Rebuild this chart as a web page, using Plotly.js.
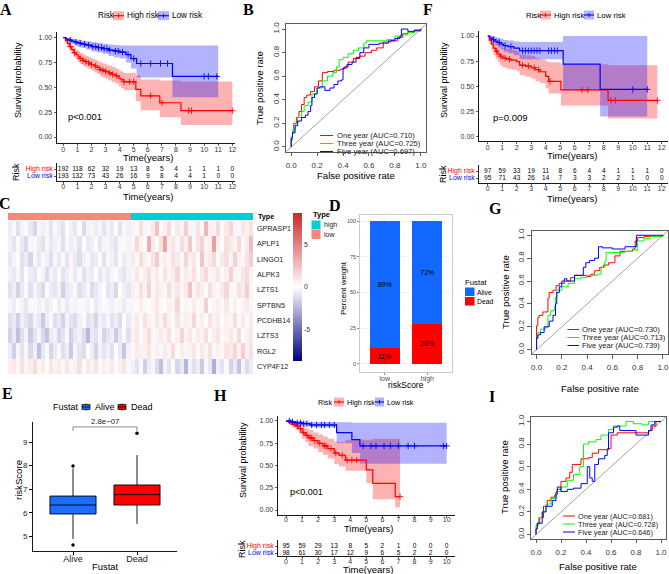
<!DOCTYPE html>
<html><head><meta charset="utf-8">
<script src="https://cdn.plot.ly/plotly-3.0.1.min.js"></script>
<style>html,body{margin:0;padding:0;background:#fff}#chart{width:669px;height:574px}</style>
</head><body><div id="chart"></div>
<script>
// ================= DATA =================
// --- Panel A (KM, training set) ---
const aTicks=[0,1,2,3,4,5,6,7,8,9,10,11,12];
const aHighT=[0,0.15,0.3,0.45,0.6,0.75,0.9,1.05,1.2,1.4,1.6,1.8,2.0,2.2,2.4,2.6,2.8,3.0,3.2,3.45,3.7,3.95,4.1,4.3,5.15,5.5,6.85,8.35,12.0];
const aHighS=[1.0,0.97,0.94,0.91,0.88,0.85,0.83,0.81,0.79,0.77,0.76,0.745,0.73,0.715,0.70,0.68,0.67,0.66,0.645,0.63,0.615,0.59,0.575,0.556,0.48,0.415,0.345,0.265,0.265];
const aHighU=[1,0.995,0.975,0.95,0.925,0.90,0.88,0.865,0.845,0.83,0.815,0.805,0.79,0.78,0.765,0.75,0.74,0.73,0.72,0.705,0.69,0.67,0.66,0.645,0.62,0.58,0.57,0.56,0.56];
const aHighL=[1,0.945,0.905,0.87,0.835,0.80,0.78,0.755,0.735,0.71,0.70,0.685,0.67,0.65,0.635,0.61,0.60,0.59,0.57,0.555,0.54,0.51,0.49,0.47,0.36,0.27,0.2,0.12,0.12];
const aHighCensor=[0.5,0.8,1.2,1.4,1.6,1.8,2.0,2.3,2.6,2.8,3.0,3.3,3.5,3.8,4.3,4.7,5.0,6.2,7.0,8.9,9.1,12.0];
const aLowT=[0,0.2,0.4,0.6,0.8,1.0,1.3,1.6,2.0,2.4,2.8,3.2,3.6,4.0,4.45,4.8,5.2,7.75,11.0];
const aLowS=[1,0.985,0.975,0.965,0.955,0.945,0.935,0.925,0.91,0.90,0.89,0.875,0.865,0.855,0.83,0.79,0.74,0.61,0.61];
const aLowU=[1,1,0.995,0.99,0.985,0.98,0.97,0.965,0.955,0.95,0.94,0.93,0.925,0.92,0.92,0.92,0.92,0.92,0.92];
const aLowL=[1,0.965,0.95,0.935,0.92,0.905,0.895,0.88,0.86,0.85,0.835,0.815,0.80,0.79,0.75,0.69,0.6,0.4,0.4];
const aLowCensor=[0.5,0.9,1.2,1.5,1.8,2.1,2.3,2.5,2.7,2.9,3.1,3.3,3.7,3.9,4.2,4.6,5.0,5.5,6.2,6.9,7.4,10.0,10.3,10.9];
const aTableHigh=[192,118,62,32,19,13,8,5,4,1,1,1,0];
const aTableLow=[193,132,73,43,26,16,9,8,4,4,1,0,0];

// --- Panel F (KM, test set) ---
const fTicks=[0,1,2,3,4,5,6,7,8,9,10,11,12];
const fHighT=[0,0.1,0.25,0.4,0.55,0.7,0.85,1.0,1.3,1.6,2.0,2.2,2.6,3.0,3.3,3.6,4.0,4.2,5.05,8.3,11.7];
const fHighS=[1,0.96,0.92,0.88,0.85,0.82,0.80,0.78,0.77,0.76,0.745,0.71,0.70,0.685,0.665,0.645,0.60,0.55,0.465,0.36,0.36];
const fHighU=[1,1,0.99,0.96,0.94,0.92,0.90,0.88,0.87,0.86,0.85,0.82,0.81,0.80,0.78,0.77,0.75,0.74,0.72,0.71,0.71];
const fHighL=[1,0.92,0.86,0.81,0.77,0.74,0.71,0.69,0.675,0.665,0.65,0.61,0.595,0.575,0.55,0.53,0.48,0.43,0.31,0.18,0.18];
const fHighCensor=[0.6,0.9,1.2,1.5,2.4,2.8,3.2,3.5,4.3,6.5,6.9,8.5,8.8,11.7];
const fLowT=[0,0.15,0.3,0.5,0.7,0.9,1.1,1.4,1.8,2.2,5.2,7.75,11.0];
const fLowS=[1,0.98,0.965,0.95,0.935,0.92,0.905,0.895,0.88,0.855,0.72,0.47,0.47];
const fLowU=[1,1,1,0.99,0.98,0.97,0.96,0.955,0.945,0.94,1.0,1.0,1.0];
const fLowL=[1,0.95,0.93,0.905,0.885,0.865,0.845,0.83,0.81,0.77,0.46,0.2,0.2];
const fLowCensor=[0.4,0.8,1.2,1.6,2.4,2.6,2.8,3.0,3.2,3.4,3.6,4.2,4.4,4.6,4.8,10.0,11.0];
const fTableHigh=[97,59,33,19,11,8,6,4,4,1,1,1,0];
const fTableLow=[95,71,43,26,14,7,3,3,2,2,1,0,0];

// --- Panel H (KM, external set) ---
const hTicks=[0,1,2,3,4,5,6,7,8,9,10];
const hHighT=[0,0.2,0.4,0.6,0.8,1.0,1.2,1.4,1.7,2.0,2.3,2.6,3.0,3.3,3.7,5.0,5.4,6.8,7.1];
const hHighS=[1,0.985,0.965,0.945,0.915,0.87,0.84,0.81,0.78,0.75,0.72,0.69,0.64,0.615,0.56,0.45,0.30,0.15,0.15];
const hHighU=[1,1,1,0.99,0.97,0.94,0.92,0.90,0.87,0.85,0.825,0.80,0.77,0.76,0.79,0.79,0.8,0.8,0.8];
const hHighL=[1,0.97,0.93,0.9,0.86,0.8,0.76,0.72,0.69,0.65,0.62,0.58,0.52,0.49,0.44,0.30,0.12,0.03,0.03];
const hHighCensor=[0.3,0.5,0.7,0.9,1.1,1.3,1.5,1.6,1.8,2.1,2.4,2.5,2.8,3.1,3.5,3.8,4.1,4.4,7.1];
const hLowT=[0,0.3,0.6,1.0,1.5,3.15,4.1,4.6,10.0];
const hLowS=[1,0.99,0.98,0.97,0.955,0.87,0.79,0.72,0.72];
const hLowU=[1,1,1,0.995,0.99,0.985,0.98,0.98,0.98];
const hLowL=[1,0.97,0.955,0.94,0.93,0.75,0.64,0.52,0.52];
const hLowCensor=[0.2,0.4,0.7,0.9,1.1,1.3,1.6,1.9,2.2,2.4,2.7,3.0,4.8,5.3,5.6,6.1,6.5,7.0,7.6,8.0,9.8,10.0];
const hTableHigh=[95,59,29,13,8,5,2,1,0,0,0];
const hTableLow=[98,61,30,17,12,9,6,5,2,2,0];

// --- ROC panels B, G, I ---
const rocTicks=[0,0.2,0.4,0.6,0.8,1.0];
const bOneFpr=[0,0,0.01,0.02,0.04,0.06,0.08,0.1,0.12,0.15,0.18,0.21,0.24,0.28,0.33,0.38,0.41,0.44,0.48,0.53,0.57,0.62,0.66,0.71,0.77,0.82,0.86,0.9,0.95,1];
const bOneTpr=[0,0.06,0.12,0.2,0.25,0.3,0.36,0.42,0.44,0.47,0.51,0.56,0.63,0.64,0.65,0.66,0.68,0.72,0.75,0.77,0.8,0.82,0.84,0.89,0.9,0.93,0.96,0.97,0.99,1];
const bThreeFpr=[0,0,0.01,0.03,0.05,0.08,0.1,0.13,0.16,0.2,0.24,0.28,0.32,0.35,0.37,0.4,0.44,0.48,0.52,0.56,0.58,0.62,0.68,0.74,0.8,0.85,0.9,0.95,1];
const bThreeTpr=[0,0.07,0.14,0.2,0.25,0.3,0.35,0.38,0.45,0.5,0.56,0.6,0.63,0.68,0.74,0.76,0.79,0.82,0.84,0.88,0.9,0.9,0.9,0.91,0.94,0.95,0.97,0.98,1];
const bFiveFpr=[0,0,0.01,0.03,0.05,0.08,0.11,0.13,0.15,0.16,0.18,0.2,0.22,0.26,0.3,0.33,0.36,0.39,0.4,0.43,0.47,0.5,0.53,0.56,0.6,0.68,0.75,0.8,0.84,0.85,0.9,0.95,1];
const bFiveTpr=[0,0.08,0.12,0.18,0.22,0.25,0.27,0.3,0.35,0.42,0.45,0.5,0.51,0.48,0.5,0.53,0.56,0.57,0.67,0.7,0.72,0.76,0.8,0.84,0.87,0.88,0.9,0.92,0.94,1.0,0.98,0.99,1];
const bLabels=['One year (AUC=0.710)','Three year (AUC=0.725)','Five year (AUC=0.697)'];

const gOneFpr=[0,0,0.01,0.02,0.05,0.06,0.09,0.1,0.13,0.155,0.18,0.22,0.27,0.3,0.35,0.4,0.43,0.46,0.5,0.53,0.57,0.62,0.66,0.72,0.76,0.78,0.8,0.85,0.92,1];
const gOneTpr=[0,0.21,0.28,0.3,0.33,0.33,0.45,0.5,0.52,0.56,0.58,0.6,0.63,0.65,0.65,0.64,0.66,0.69,0.72,0.74,0.76,0.82,0.86,0.86,0.88,0.95,0.98,0.99,0.99,1];
const gThreeFpr=[0,0,0.01,0.03,0.07,0.09,0.11,0.14,0.15,0.16,0.2,0.25,0.3,0.35,0.4,0.45,0.48,0.51,0.54,0.55,0.6,0.7,0.76,0.8,0.85,0.9,1];
const gThreeTpr=[0,0.1,0.15,0.18,0.2,0.3,0.34,0.38,0.46,0.52,0.55,0.58,0.62,0.63,0.65,0.65,0.66,0.72,0.77,0.85,0.85,0.86,0.87,0.95,0.97,0.99,1];
const gFiveFpr=[0,0,0.01,0.03,0.06,0.1,0.13,0.15,0.16,0.18,0.2,0.22,0.24,0.3,0.34,0.37,0.39,0.42,0.46,0.49,0.52,0.6,0.7,0.79,0.85,0.95,1];
const gFiveTpr=[0,0.1,0.13,0.15,0.2,0.25,0.3,0.4,0.5,0.55,0.6,0.62,0.6,0.65,0.65,0.72,0.76,0.78,0.8,0.9,0.89,0.88,0.9,1.0,1.0,1.0,1];
const gLabels=['One year (AUC=0.730)','Three year (AUC=0.713)','Five year (AUC=0.739)'];

const iOneFpr=[0,0,0.01,0.03,0.06,0.09,0.12,0.15,0.17,0.2,0.24,0.27,0.29,0.33,0.36,0.42,0.45,0.5,0.57,0.6,0.65,0.75,0.85,0.9,0.93,0.96,1];
const iOneTpr=[0,0.05,0.1,0.15,0.25,0.3,0.33,0.35,0.4,0.47,0.5,0.55,0.62,0.62,0.67,0.68,0.72,0.75,0.76,0.88,0.9,0.9,0.9,0.92,0.96,1.0,1];
const iThreeFpr=[0,0,0.02,0.05,0.08,0.12,0.16,0.2,0.25,0.3,0.35,0.38,0.42,0.48,0.52,0.58,0.62,0.7,0.72,0.78,0.85,0.9,1];
const iThreeTpr=[0,0.08,0.15,0.2,0.27,0.32,0.38,0.42,0.48,0.53,0.6,0.8,0.82,0.84,0.88,0.93,0.96,0.96,1.0,0.98,0.97,1.0,1];
const iFiveFpr=[0,0,0.01,0.05,0.08,0.13,0.16,0.17,0.2,0.25,0.3,0.36,0.41,0.43,0.45,0.47,0.5,0.55,0.57,0.58,0.62,0.65,0.67,0.72,0.8,0.88,0.9,0.92,0.95,1];
const iFiveTpr=[0,0.05,0.1,0.2,0.25,0.3,0.37,0.42,0.38,0.4,0.41,0.45,0.6,0.5,0.47,0.62,0.67,0.7,0.75,0.9,0.95,0.96,0.92,0.92,0.88,0.88,0.92,0.97,1.0,1];
const iLabels=['One year (AUC=0.681)','Three year (AUC=0.728)','Five year (AUC=0.646)'];

// --- Panel C (heatmap): 30 low-risk samples then 30 high-risk samples ---
const hmGenes=['GPRASP1','APLP1','LINGO1','ALPK3','LZTS1','SPTBN5','PCDHB14','LZTS3','RGL2','CYP4F12'];
const hmLowN=30, hmHighN=30;
const hmGPRASP1=[-0.6,-0.2,-1.1,-0.4,0.2,-0.7,-1.4,-0.3,-0.5,0.4,-0.9,-0.2,-0.6,-1.0,0.1,-0.5,-0.8,-0.1,-1.2,-0.4,0.5,-0.6,-0.3,-0.9,-0.4,-0.7,0.2,-1.0,-0.3,-0.5,
  0.6,0.2,1.3,0.4,-0.2,0.9,2.4,0.3,0.6,1.5,0.1,0.8,0.4,1.9,0.5,-0.3,1.1,0.3,2.8,0.7,0.5,1.4,0.2,0.9,1.7,0.4,-0.2,1.0,0.6,1.2];
const hmAPLP1=[-0.5,-0.9,-0.2,-0.7,-1.3,-0.3,0.3,-0.6,-1.0,-0.3,-0.8,-0.5,0.4,-1.1,-0.2,-0.6,-0.4,-1.0,0.2,-0.7,-0.5,-0.1,-0.8,-0.3,0.5,-0.6,-0.9,-0.2,0.3,-0.4,
  0.4,1.6,0.6,0.2,3.2,0.8,0.3,1.2,3.6,0.5,1.0,-0.3,1.4,0.6,2.2,0.3,1.1,1.8,0.4,0.7,3.8,0.6,0.2,1.3,0.9,0.5,1.5,-0.2,0.8,2.6];
const hmLINGO1=[-0.8,-0.4,-0.1,-1.0,-0.6,-1.4,-0.3,-0.8,0.3,-0.5,-1.1,-0.3,-0.7,-0.2,-0.9,0.4,-0.7,-1.2,-0.5,-0.2,-0.8,-0.6,0.1,-1.0,-0.3,-0.5,-0.9,0.2,-0.6,-0.4,
  0.9,0.3,1.4,0.6,0.1,1.1,2.1,0.4,0.7,-0.2,1.2,0.8,0.3,1.7,0.6,1.0,0.2,2.3,0.5,0.9,1.5,0.2,0.8,1.3,0.4,1.9,0.6,0.3,1.1,2.0];
const hmALPK3=[-0.5,-0.8,-0.3,-1.0,-0.1,-0.6,-0.9,0.2,-0.4,-1.2,-0.4,-0.7,-0.2,-0.9,-0.5,0.3,-0.7,-0.2,-1.0,-0.5,-0.6,0.1,-0.8,-0.4,-0.7,-0.3,0.2,-0.6,-0.9,-0.4,
  0.5,1.0,0.2,0.7,1.3,0.4,0.9,-0.1,1.1,0.4,0.7,1.6,0.3,0.8,0.5,1.2,0.2,0.9,1.5,0.4,0.6,1.1,0.2,0.7,1.8,0.5,0.3,1.0,1.4,0.6];
const hmLZTS1=[-1.0,-0.5,-1.5,-0.7,-0.2,-1.1,-0.4,-0.8,-1.3,0.2,-0.6,-0.9,-0.4,-1.6,-0.7,-0.5,0.3,-1.1,-0.7,-0.3,-1.2,-0.8,-0.4,-0.1,-0.9,-0.6,-1.3,0.1,-0.5,-0.8,
  0.7,0.3,1.2,0.5,1.8,0.2,0.9,0.6,-0.3,1.4,0.5,1.0,0.4,0.8,2.4,0.4,1.1,0.7,0.2,1.3,0.6,-0.1,0.9,1.6,0.5,0.3,1.2,0.8,2.0,0.4];
const hmSPTBN5=[-0.3,-0.6,-0.1,-0.4,-0.8,-0.2,0.3,-0.5,-0.2,-0.7,-0.4,0.1,-0.6,-0.2,-0.7,-0.3,-0.4,0.3,-0.2,-0.5,-0.1,-0.7,-0.4,0.2,-0.3,-0.5,-0.2,0.4,-0.6,-0.3,
  0.4,0.2,0.7,0.3,-0.1,0.5,1.0,0.3,0.1,0.6,0.4,1.6,0.2,0.5,-0.2,0.8,0.3,0.5,2.0,0.1,0.4,0.7,0.3,1.0,0.2,0.6,-0.1,0.4,0.9,0.3];
const hmPCDHB14=[-1.1,-0.7,-1.6,-0.5,-0.9,-1.3,-0.4,-0.8,-1.8,-0.6,-0.2,-1.1,-0.7,-1.5,-0.4,-0.9,-1.2,-0.5,0.2,-1.0,-0.7,-1.4,-0.5,-0.8,-0.3,-1.0,-0.6,-1.2,0.1,-0.7,
  0.4,0.8,0.2,1.2,0.5,-0.2,1.0,0.4,1.4,0.6,0.2,1.1,-0.3,0.7,0.5,1.6,0.3,0.7,0.1,1.1,0.5,0.9,-0.1,0.6,0.4,1.3,0.2,0.8,-0.2,0.9];
const hmLZTS3=[-1.5,-0.7,-2.2,-1.1,-0.4,-1.8,-0.9,-0.3,-1.3,-2.0,-0.7,-0.4,-1.4,-1.0,0.3,-1.6,-0.8,-0.5,-1.2,-2.4,-0.7,-1.0,-0.3,-1.5,-0.9,-0.5,-1.7,-0.8,-0.2,-1.1,
  0.5,1.0,0.1,0.7,1.4,0.3,-0.3,0.8,0.5,1.2,0.2,0.6,1.7,0.4,0.9,-0.2,0.8,0.4,1.3,0.2,0.7,1.1,0.2,0.5,0.9,0.3,1.5,-0.1,0.6,1.0];
const hmRGL2=[-0.6,-1.6,-0.3,-1.0,0.4,-1.3,-0.5,-2.2,-0.8,-0.2,-1.4,-0.7,0.3,-1.1,-0.6,-1.8,-0.3,-0.9,-1.2,0.2,-0.6,-1.5,-0.4,-0.9,-0.5,-1.1,0.1,-0.7,-1.9,-0.4,
  0.3,0.8,-0.4,0.6,1.1,0.2,0.6,-0.2,0.9,0.4,1.4,0.2,0.7,-0.3,0.5,1.0,0.1,0.8,0.4,1.3,-0.2,0.6,0.3,1.1,0.8,1.6,0.4,1.9,0.6,1.2];
const hmCYP4F12=[0.6,0.9,0.3,1.2,0.4,0.7,1.4,0.3,0.8,0.1,1.0,0.5,0.8,-0.2,1.0,0.4,0.6,1.3,0.2,0.8,0.5,1.1,0.2,0.7,0.4,0.9,-0.1,0.6,1.0,0.3,
  -0.5,-1.0,-0.2,-1.6,-0.6,-0.3,-1.2,-2.2,-0.4,-0.9,-0.1,-1.4,-0.7,-2.5,-0.4,-1.1,-0.6,-1.8,-0.2,-0.8,-2.8,-0.5,-1.0,-0.2,-1.5,-0.7,-2.0,-0.4,-1.2,-0.6];
const hmColorTicks=[-5,0,5];

// --- Panel D (stacked percent bars) ---
const dGroups=['low','high'];
const dDead=[11,28];
const dAlive=[89,72];
const dTicks=[0,25,50,75,100];

// --- Panel E (box plot) ---
const eGroups=['Alive','Dead'];
const eQ1=[5.95,6.33];
const eMedian=[6.33,6.77];
const eQ3=[6.71,7.18];
const eLowerFence=[4.89,5.53];
const eUpperFence=[7.88,8.45];
const eOutX=['Alive','Alive','Dead'];
const eOutY=[7.98,4.63,9.37];
const ePText='2.8e\u221207';
const eTicks=[5,6,7,8,9];

// ================= BUILD =================
const W=669,H=574;
const FONT='Liberation Sans, Arial, Helvetica, sans-serif';
const SERIF='Liberation Serif, Times New Roman, serif';
const RED='#FF0000', BLUE='#0000FF', GREEN='#00FF00';
const P=x=>x/W, Q=y=>1-y/H;
const dx=(a,b)=>[a/W,b/W];
const dy=(t,b)=>[1-b/H,1-t/H];
const ax=n=>n===1?'':String(n);
const traces=[], annotations=[], shapes=[];
const layout={width:W,height:H,margin:{l:0,r:0,t:0,b:0},paper_bgcolor:'#fff',plot_bgcolor:'rgba(0,0,0,0)',
  showlegend:false,font:{family:FONT,color:'#000'},annotations:annotations,shapes:shapes,barmode:'stack'};

function txt(x,y,text,size,xa,o){
  o=o||{};
  annotations.push({xref:'paper',yref:'paper',x:P(x),y:Q(y),text:text,showarrow:false,xanchor:xa||'center',yanchor:'middle',
    textangle:o.angle||0,borderpad:0,font:{family:o.family||FONT,size:size,color:o.color||'#000'}});
}
function pline(x0,y0,x1,y1,color,w){shapes.push({type:'line',xref:'paper',yref:'paper',x0:P(x0),y0:Q(y0),x1:P(x1),y1:Q(y1),line:{color:color,width:w}});}
function prect(x0,y0,x1,y1,fill,lc,lw){shapes.push({type:'rect',xref:'paper',yref:'paper',x0:P(x0),y0:Q(y0),x1:P(x1),y1:Q(y1),fillcolor:fill,line:{color:lc||'rgba(0,0,0,0)',width:lw||0}});}

function stepAt(T,S,t){let v=S[0];for(let i=0;i<T.length;i++){if(T[i]<=t)v=S[i];}return v;}

const KMAX={showline:true,linecolor:'#000',linewidth:0.9,ticks:'outside',ticklen:2.5,tickwidth:0.8,tickcolor:'#333',
  tickfont:{size:7,color:'#333'},showgrid:false,zeroline:false,fixedrange:true,ticklabeloverflow:'allow'};
const survTicks=[0,0.25,0.5,0.75,1], survText=['0.00','0.25','0.50','0.75','1.00'];
const riskLabels=['<span style="color:#FF0000">High risk</span>','<span style="color:#0000FF">Low risk</span>'];

function kmAxes(n,xd,yd,xr,yr,ticks,standoff){
  layout['xaxis'+ax(n)]=Object.assign({},KMAX,{domain:dx(xd[0],xd[1]),range:xr,anchor:'y'+ax(n),tickvals:ticks,ticklabelstandoff:standoff});
  layout['yaxis'+ax(n)]=Object.assign({},KMAX,{domain:dy(yd[0],yd[1]),range:yr,anchor:'x'+ax(n),tickvals:survTicks,ticktext:survText});
}
function tableAxes(n,xd,yd,xr,yr,ticks){
  layout['xaxis'+ax(n)]=Object.assign({},KMAX,{domain:dx(xd[0],xd[1]),range:xr,anchor:'y'+ax(n),tickvals:ticks,ticklabelstandoff:-4});
  layout['yaxis'+ax(n)]=Object.assign({},KMAX,{domain:dy(yd[0],yd[1]),range:yr,anchor:'x'+ax(n),tickvals:[2,1],ticktext:riskLabels,ticklen:2,tickfont:{size:7}});
}
function kmGroup(n,T,S,U,L,C,col,fill){
  const xa='x'+ax(n), ya='y'+ax(n);
  traces.push({type:'scatter',x:T,y:L,mode:'lines',line:{width:0,shape:'hv'},xaxis:xa,yaxis:ya,hoverinfo:'skip'});
  traces.push({type:'scatter',x:T,y:U,mode:'lines',line:{width:0,shape:'hv'},fill:'tonexty',fillcolor:fill,xaxis:xa,yaxis:ya,hoverinfo:'skip'});
}
function kmLine(n,T,S,C,col){
  const xa='x'+ax(n), ya='y'+ax(n);
  traces.push({type:'scatter',x:T,y:S,mode:'lines',line:{width:1.2,shape:'hv',color:col},xaxis:xa,yaxis:ya});
  traces.push({type:'scatter',x:C,y:C.map(t=>stepAt(T,S,t)),mode:'markers',marker:{symbol:'cross-thin',size:4.5,line:{color:col,width:0.9}},xaxis:xa,yaxis:ya,cliponaxis:false});
}
function tableRow(n,ticks,counts,yv){
  traces.push({type:'scatter',x:ticks,y:ticks.map(()=>yv),mode:'text',text:counts.map(String),textposition:'middle center',
    textfont:{size:6.5,color:'#000',family:FONT},xaxis:'x'+ax(n),yaxis:'y'+ax(n),cliponaxis:false});
}
function kmLegendGlyph(x0,x1,yc,col,fill){
  prect(x0,yc-4.5,x1,yc+4.5,fill);
  pline(x0,yc,x1,yc,col,1.1);
  pline((x0+x1)/2,yc-2,(x0+x1)/2,yc+2,col,0.9);
}
function kmLegend(y,xs,size){
  txt(xs[0],y,'Risk',size,'left');
  kmLegendGlyph(xs[1],xs[2],y,RED,'rgba(255,0,0,0.3)');
  txt(xs[3],y,'High risk',size,'left');
  kmLegendGlyph(xs[4],xs[5],y,BLUE,'rgba(0,0,255,0.3)');
  txt(xs[6],y,'Low risk',size,'left');
}
const REDF='rgba(255,0,0,0.3)', BLUEF='rgba(0,0,255,0.3)';

// ---- Panel A ----
kmAxes(1,[57,235],[32,143],[-0.447,12.19],[-0.06,1.057],aTicks,-3);
kmGroup(1,aHighT,aHighS,aHighU,aHighL,aHighCensor,RED,REDF);
kmGroup(1,aLowT,aLowS,aLowU,aLowL,aLowCensor,BLUE,BLUEF);
kmLine(1,aHighT,aHighS,aHighCensor,RED);
kmLine(1,aLowT,aLowS,aLowCensor,BLUE);
tableAxes(2,[57,235],[163,181],[-0.447,12.19],[0.286,2.857],aTicks);
tableRow(2,aTicks,aTableHigh,2);
tableRow(2,aTicks,aTableLow,1);
kmLegend(15.7,[97,113,124,126,158,169,171],8.2);
txt(148,157.5,'Time(years)',9.5);
txt(148,196.5,'Time(years)',9.5);
txt(18,80,'Survival probability',9,'center',{angle:-90});
txt(16,172,'Risk',9,'center',{angle:-90});
txt(67,117,'p<0.001',9.3,'left');

// ---- Panel F ----
kmAxes(3,[479,668],[31,141],[-0.6,12.43],[-0.043,1.05],fTicks,-3);
kmGroup(3,fHighT,fHighS,fHighU,fHighL,fHighCensor,RED,REDF);
kmGroup(3,fLowT,fLowS,fLowU,fLowL,fLowCensor,BLUE,BLUEF);
kmLine(3,fHighT,fHighS,fHighCensor,RED);
kmLine(3,fLowT,fLowS,fLowCensor,BLUE);
tableAxes(4,[479,668],[165,183],[-0.6,12.43],[0.286,2.857],fTicks);
tableRow(4,fTicks,fTableHigh,2);
tableRow(4,fTicks,fTableLow,1);
kmLegend(15,[525,540,551,553,584,594,596],7.8);
txt(572,155.5,'Time(years)',9.5);
txt(572,198,'Time(years)',9.5);
txt(444,80,'Survival probability',9,'center',{angle:-90});
txt(443,174,'Risk',9,'center',{angle:-90});
txt(492,117,'p=0.009',9.5,'left');

// ---- Panel H ----
kmAxes(5,[278,455],[416,515],[-0.498,10.52],[-0.056,1.056],hTicks,-5);
kmGroup(5,hHighT,hHighS,hHighU,hHighL,hHighCensor,RED,REDF);
kmGroup(5,hLowT,hLowS,hLowU,hLowL,hLowCensor,BLUE,BLUEF);
kmLine(5,hHighT,hHighS,hHighCensor,RED);
kmLine(5,hLowT,hLowS,hLowCensor,BLUE);
tableAxes(6,[278,455],[540,556],[-0.498,10.52],[0.571,2.857],hTicks);
tableRow(6,hTicks,hTableHigh,2);
tableRow(6,hTicks,hTableLow,1);
kmLegend(402,[317,334,344,346,375,384,386],7.2);
txt(368,528.5,'Time(years)',9.3);
txt(368,569.5,'Time(years)',9.5);
txt(243,460,'Survival probability',9,'center',{angle:-90});
txt(242,549,'Risk',9,'center',{angle:-90});
txt(289,492,'p<0.001',9,'left');

// ---- ROC panels ----
const ROCAX={showline:true,mirror:true,linecolor:'#333',linewidth:0.8,ticks:'outside',ticklen:3.5,tickwidth:0.8,tickcolor:'#333',
  tickfont:{size:8,color:'#333'},showgrid:false,zeroline:false,range:[-0.04,1.04],tickvals:rocTicks,ticktext:rocTicks.map(v=>v.toFixed(1)),
  fixedrange:true,ticklabeloverflow:'allow'};
function rocPanel(n,xd,yd,curves,labels,leg){
  layout['xaxis'+n]=Object.assign({},ROCAX,{domain:dx(xd[0],xd[1]),anchor:'y'+n,ticklabelstandoff:2});
  layout['yaxis'+n]=Object.assign({},ROCAX,{domain:dy(yd[0],yd[1]),anchor:'x'+n,tickangle:-90});
  shapes.push({type:'line',xref:'x'+n,yref:'y'+n,x0:-0.04,y0:-0.04,x1:1.04,y1:1.04,line:{color:'#8c8c8c',width:0.8},layer:'below'});
  const cols=[RED,GREEN,BLUE];
  curves.forEach((c,i)=>{
    traces.push({type:'scatter',x:c[0],y:c[1],mode:'lines',line:{color:cols[i],width:1,shape:'hv'},xaxis:'x'+n,yaxis:'y'+n});
    pline(leg.x0,leg.ys[i],leg.x1,leg.ys[i],cols[i],1);
    txt(leg.xt,leg.ys[i],labels[i],leg.size,'left',{color:'#222'});
  });
}
rocPanel(7,[286,426],[24.3,151.7],[[bOneFpr,bOneTpr],[bThreeFpr,bThreeTpr],[bFiveFpr,bFiveTpr]],bLabels,{x0:320,x1:333,xt:335.5,ys:[135.5,143.5,151.5],size:7.6});
txt(356,175.5,'False positive rate',9.6);
txt(260,88,'True positive rate',9.6,'center',{angle:-90});
rocPanel(8,[531.5,668],[230.7,354.3],[[gOneFpr,gOneTpr],[gThreeFpr,gThreeTpr],[gFiveFpr,gFiveTpr]],gLabels,{x0:567.5,x1:579,xt:580.5,ys:[329.5,337.5,345.5],size:7.6});
txt(600,388.5,'False positive rate',9.6);
txt(505,292,'True positive rate',9.6,'center',{angle:-90});
rocPanel(9,[531,666],[417,539],[[iOneFpr,iOneTpr],[iThreeFpr,iThreeTpr],[iFiveFpr,iFiveTpr]],iLabels,{x0:563,x1:575,xt:577,ys:[516,524,532],size:7.3});
txt(598,566.5,'False positive rate',9.6);
txt(505,477,'True positive rate',9.6,'center',{angle:-90});

// ---- Panel C heatmap ----
const hmZ=[hmGPRASP1,hmAPLP1,hmLINGO1,hmALPK3,hmLZTS1,hmSPTBN5,hmPCDHB14,hmLZTS3,hmRGL2,hmCYP4F12];
const hmCols=hmGPRASP1.map((v,i)=>i);
const hmType=hmCols.map(i=>i<hmLowN?0:1);
const hmN=hmLowN+hmHighN;
layout.xaxis10={domain:dx(8,253),range:[-0.5,hmN-0.5],anchor:'y10',visible:false,fixedrange:true};
layout.yaxis10={domain:dy(221,374),type:'category',range:[9.5,-0.5],anchor:'x10',side:'right',showline:false,ticks:'',showgrid:false,zeroline:false,
  tickfont:{size:7.2,color:'#222'},ticklabelstandoff:3,fixedrange:true};
traces.push({type:'heatmap',z:hmZ,x:hmCols,y:hmGenes,xaxis:'x10',yaxis:'y10',zmin:-8.7,zmax:8.7,
  colorscale:[[0,'#000080'],[0.5,'#FFFFFF'],[1,'#CD2626']],hoverinfo:'skip',
  colorbar:{x:P(292.5),xanchor:'left',y:Q(287),yanchor:'middle',len:148,lenmode:'pixels',thickness:9,thicknessmode:'pixels',
    outlinewidth:0,xpad:0,ypad:0,tickvals:hmColorTicks,ticktext:hmColorTicks.map(String),ticks:'',tickfont:{size:7,color:'#333'}}});
layout.xaxis11={domain:dx(8,253),range:[-0.5,hmN-0.5],anchor:'y11',visible:false,fixedrange:true};
layout.yaxis11={domain:dy(213,220),range:[-0.5,0.5],anchor:'x11',visible:false,fixedrange:true};
traces.push({type:'heatmap',z:[hmType],x:hmCols,y:[0],xaxis:'x11',yaxis:'y11',zmin:0,zmax:1,showscale:false,hoverinfo:'skip',
  colorscale:[[0,'#F8877A'],[0.5,'#F8877A'],[0.5,'#00CED4'],[1,'#00CED4']]});
txt(257,216.5,'<b>Type</b>',7.2,'left');
txt(311.5,214,'<b>Type</b>',7.5,'left');
prect(311.5,220.5,320.5,229.5,'#00CED4');
prect(311.5,230,320.5,239,'#F8877A');
txt(322.5,225,'high',7,'left',{color:'#222'});
txt(322.5,234.5,'low',7,'left',{color:'#222'});

// ---- Panel D ----
layout.xaxis12={domain:dx(360,452),type:'category',range:[-0.58,1.58],anchor:'y12',showline:true,mirror:true,linecolor:'#BDBDBD',linewidth:0.8,
  ticks:'outside',ticklen:2,tickcolor:'#888',tickfont:{size:7,color:'#4D4D4D'},ticklabelstandoff:-2,showgrid:true,gridcolor:'#EBEBEB',gridwidth:0.6,zeroline:false,fixedrange:true};
layout.yaxis12={domain:dy(215,372),range:[-5.6,104.2],anchor:'x12',showline:true,mirror:true,linecolor:'#BDBDBD',linewidth:0.8,
  ticks:'outside',ticklen:2,tickcolor:'#888',tickfont:{size:5.5,color:'#4D4D4D'},tickvals:dTicks,showgrid:true,gridcolor:'#EBEBEB',gridwidth:0.6,
  minor:{tickvals:[12.5,37.5,62.5,87.5],showgrid:true,gridcolor:'#F5F5F5',gridwidth:0.4,ticks:''},zeroline:false,fixedrange:true};
traces.push({type:'bar',x:dGroups,y:dDead,width:0.7,marker:{color:'#FF0000',line:{width:0}},text:dDead.map(v=>v+'%'),textposition:'inside',
  insidetextanchor:'middle',textangle:0,constraintext:'none',textfont:{size:7,color:'#000',family:FONT},xaxis:'x12',yaxis:'y12'});
traces.push({type:'bar',x:dGroups,y:dAlive,width:0.7,marker:{color:'#1268FF',line:{width:0}},text:dAlive.map(v=>v+'%'),textposition:'inside',
  insidetextanchor:'middle',textangle:0,constraintext:'none',textfont:{size:7,color:'#000',family:FONT},xaxis:'x12',yaxis:'y12'});
txt(343,288,'Percent weight',8,'center',{angle:-90});
txt(406,384.5,'riskScore',8.5);
txt(464,282,'Fustat',7.8,'left');
prect(465,287.5,474.5,296,'#1268FF');
prect(465,297,474.5,305.5,'#FF0000');
txt(476,292,'Alive',6.8,'left');
txt(476,301.5,'Dead',6.8,'left');

// ---- Panel E ----
layout.xaxis13={domain:dx(33,177),type:'category',range:[-0.625,1.625],anchor:'y13',showline:true,linecolor:'#000',linewidth:0.9,
  ticks:'outside',ticklen:3,tickcolor:'#000',tickfont:{size:9,color:'#222'},ticklabelstandoff:-4,showgrid:false,zeroline:false,fixedrange:true};
layout.yaxis13={domain:dy(422,551),range:[4.38,9.85],anchor:'x13',showline:true,linecolor:'#000',linewidth:0.9,
  ticks:'outside',ticklen:3,tickcolor:'#000',tickfont:{size:8,color:'#222'},tickvals:eTicks,showgrid:false,zeroline:false,fixedrange:true};
const eFill=['#1A6DFF','#FF0000'];
eGroups.forEach((g,i)=>{
  traces.push({type:'box',x:[g],q1:[eQ1[i]],median:[eMedian[i]],q3:[eQ3[i]],lowerfence:[eLowerFence[i]],upperfence:[eUpperFence[i]],
    width:0.72,whiskerwidth:0,fillcolor:eFill[i],line:{color:'#000',width:0.9},boxpoints:false,xaxis:'x13',yaxis:'y13',hoverinfo:'skip'});
});
traces.push({type:'scatter',x:eOutX,y:eOutY,mode:'markers',marker:{color:'#000',size:3.5},xaxis:'x13',yaxis:'y13',cliponaxis:false});
shapes.push({type:'path',xref:'x13',yref:'y13',path:'M 0,9.47 L 0,9.64 L 1,9.64 L 1,9.47',line:{color:'#555',width:0.7}});
annotations.push({xref:'x13',yref:'y13',x:0.5,y:9.64,text:ePText,showarrow:false,yanchor:'bottom',borderpad:0,font:{family:FONT,size:7.8,color:'#222'}});
txt(18,480,'riskScore',9.6,'center',{angle:-90});
txt(105,566.5,'Fustat',9.4);
txt(52,407,'Fustat',9,'left');
function boxGlyph(x0,x1,yc,fill){
  pline((x0+x1)/2,yc-4,(x0+x1)/2,yc+4,'#333',0.7);
  prect(x0,yc-2.5,x1,yc+2.5,fill,'#000',0.7);
  pline(x0,yc,x1,yc,'#000',0.8);
}
boxGlyph(82,90,407,'#1A6DFF');
txt(93.5,407,'Alive',9,'left');
boxGlyph(118,126,407,'#FF0000');
txt(129.5,407,'Dead',9,'left');

// ---- Panel letters ----
[['A',6,9.5],['B',248,9.5],['F',428,9.5],['C',5,203],['D',335,205],['G',495,208],['E',7,393],['H',220,395],['I',492,396]].forEach(l=>{
  txt(l[1],l[2],'<b>'+l[0]+'</b>',16,'center',{family:SERIF});
});

Plotly.newPlot('chart',traces,layout,{staticPlot:true,displayModeBar:false});
</script></body></html>
